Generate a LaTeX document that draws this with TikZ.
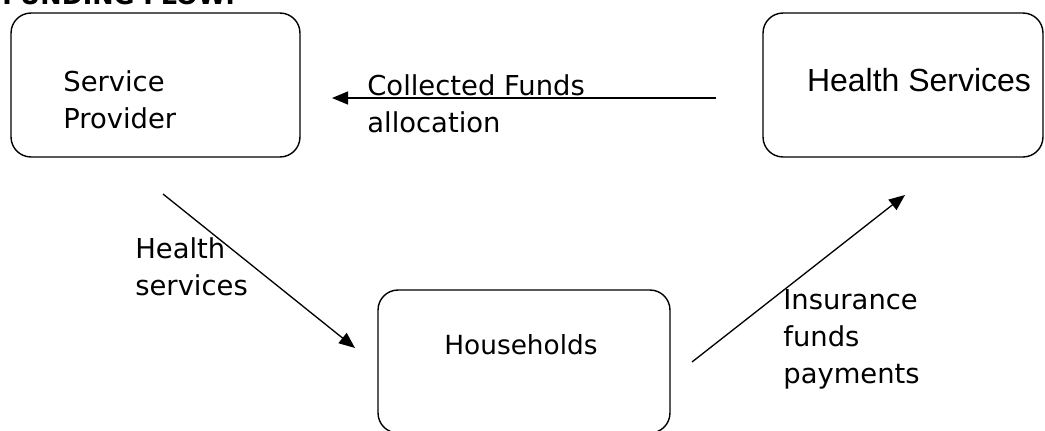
\documentclass[tikz,border=0pt]{standalone}
\usepackage{fontspec}
\setmainfont{DejaVu Sans}
\newfontfamily\arialfont{Liberation Sans}
\usetikzlibrary{arrows.meta}
\tikzset{
  box/.style={draw,line width=0.8pt,rounded corners=0.4cm,inner sep=0pt},
  txt/.style={inner sep=0pt,align=left,anchor=west,font=\fontsize{15.6pt}{21pt}\selectfont},
  flow/.style={line width=0.75pt,-{Triangle[length=0.32cm,width=0.26cm]}}
}

\begin{document}
\begin{tikzpicture}[x=0.02cm,y=-0.02cm]
  \clip (0,0) rectangle (1045,430);
  \draw (2,4) node[anchor=base west,inner sep=0pt,font=\bfseries\fontsize{14.5pt}{16pt}\selectfont] (title) {FUNDING FLOW:};

  % boxes
  \draw (155.5,85) node[box,minimum width=5.78cm,minimum height=2.88cm] (provider) {};
  \draw (903,85) node[box,minimum width=5.6cm,minimum height=2.88cm] (services) {};
  \draw (524,361.5) node[box,minimum width=5.84cm,minimum height=2.86cm] (households) {};

  \draw (63,100) node[txt] (providertext) {Service\\Provider};
  \draw (919,80) node[inner sep=0pt,font=\arialfont\fontsize{18.2pt}{22pt}\selectfont] (servicestext) {Health Services};
  \draw (521,345) node[txt,anchor=center,font=\fontsize{15pt}{20pt}\selectfont] (householdstext) {Households};

  % flows
  \coordinate (fundsfrom) at (716,98);
  \coordinate (fundsto) at (332,98);
  \coordinate (carefrom) at (163,194);
  \coordinate (careto) at (355,348);
  \coordinate (payfrom) at (692,362);
  \coordinate (payto) at (905,195);

  \path[flow] (fundsfrom) edge (fundsto);
  \path[flow] (carefrom) edge (careto);
  \path[flow] (payfrom) edge (payto);

  \draw (367,104) node[txt] (fundslabel) {Collected Funds\\allocation};
  \draw (135,267) node[txt] (carelabel) {Health\\services};
  \draw (783,339) node[txt] (paylabel) {Insurance\\funds\\payments};

\end{tikzpicture}
\end{document}
